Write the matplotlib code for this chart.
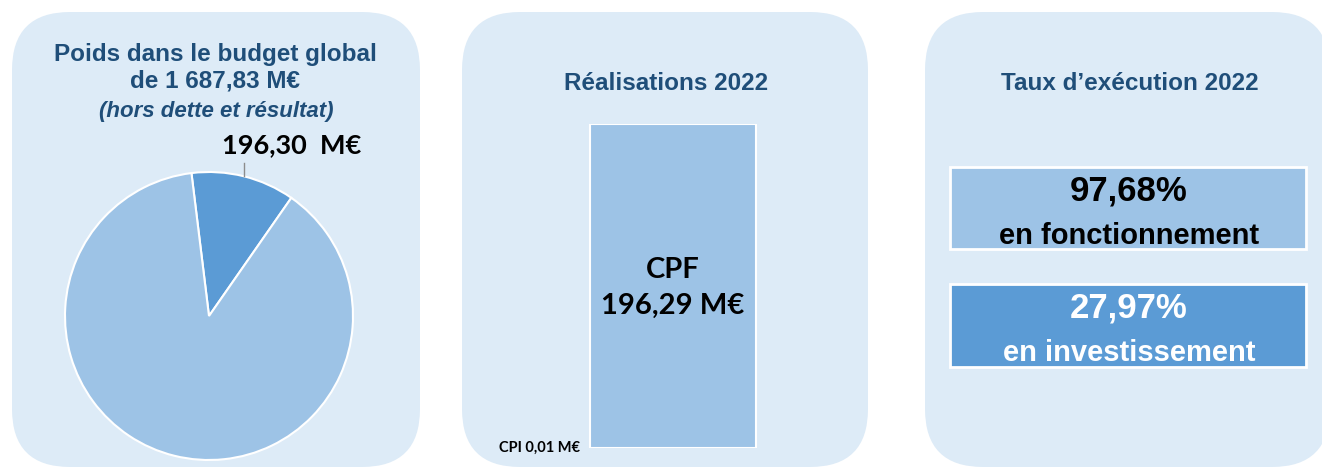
import matplotlib
matplotlib.use("Agg")
import matplotlib.pyplot as plt
import numpy as np
from matplotlib.patches import FancyBboxPatch, Rectangle

# data
budget_total = 1687.83
poids = 196.30
pie_values = [poids, budget_total - poids]
bar_labels = ["CPI", "CPF"]
bar_values = [0.01, 196.29]
taux_values = ["97,68%", "27,97%"]
taux_labels = ["en fonctionnement", "en investissement"]

W, H = 1322, 470
title_col = "#1F4E79"
panel_col = "#DDEBF7"
light = "#9DC3E6"
dark = "#5B9BD5"
arial = "Liberation Sans"
calibri = "Lato"

fig = plt.figure(figsize=(W / 100, H / 100), dpi=100)
bg = fig.add_axes([0, 0, 1, 1])
bg.set_xlim(0, W)
bg.set_ylim(H, 0)
bg.axis("off")

def px_axes(x0, y0, x1, y1):
    return fig.add_axes([x0 / W, 1 - y1 / H, (x1 - x0) / W, (y1 - y0) / H])

def fr(v):
    return f"{v:.2f}".replace(".", ",")

for x0, x1 in [(12, 420), (462, 868), (925, 1330)]:
    bg.add_patch(FancyBboxPatch((x0, 12), x1 - x0, 455,
                                boxstyle="round,pad=0,rounding_size=58",
                                fc=panel_col, ec="none"))

# panel 1 : pie
bg.text(215, 55, "Poids dans le budget global", ha="center", va="center",
        fontsize=17.5, fontweight="bold", color=title_col, family=arial)
bg.text(215, 81, "de 1 687,83 M€", ha="center", va="center",
        fontsize=17.5, fontweight="bold", color=title_col, family=arial)
bg.text(216, 111, "(hors dette et résultat)", ha="center", va="center",
        fontsize=16, fontweight="bold", style="italic", color=title_col, family=arial)

ax1 = px_axes(65, 172, 353, 460)
start = 97
ax1.pie(pie_values, colors=[dark, light], startangle=start, counterclock=False,
        wedgeprops=dict(edgecolor="white", linewidth=1.5))
ax1.set_xlim(-1, 1)
ax1.set_ylim(-1, 1)
mid = np.deg2rad(start - 180 * pie_values[0] / sum(pie_values))
px, py = np.cos(mid), np.sin(mid)
ax1.plot([px, px], [py, py + 13 / 144], color="#8C8C8C", lw=1, clip_on=False)
ax1.text(px + 48 / 144, py + 31 / 144, fr(poids) + "  M€", ha="center", va="center",
         fontsize=19.5, fontweight="bold", family=calibri, clip_on=False)

# panel 2 : stacked bar
bg.text(666, 84, "Réalisations 2022", ha="center", va="center",
        fontsize=17.5, fontweight="bold", color=title_col, family=arial)
ax2 = px_axes(470, 124, 860, 448)
ax2.bar([0], [bar_values[0]], width=1, color=dark, edgecolor="white")
ax2.bar([0], [bar_values[1]], bottom=[bar_values[0]], width=1,
        color=light, edgecolor="white", linewidth=1.5)
ax2.set_xlim(-0.5 - (590 - 470) / 166, 0.5 + (860 - 756) / 166)
ax2.set_ylim(0, sum(bar_values))
ax2.axis("off")
ax2.text(0, sum(bar_values) * 0.494, f"{bar_labels[1]}\n{fr(bar_values[1])} M€",
         ha="center", va="center", fontsize=21, fontweight="bold", family=calibri,
         linespacing=1.45)
ax2.text(-0.56, 0, f"{bar_labels[0]} {fr(bar_values[0])} M€",
         ha="right", va="center", fontsize=10.5, fontweight="bold", family=calibri)

# panel 3 : taux
bg.text(1130, 84, "Taux d’exécution 2022", ha="center", va="center",
        fontsize=17.5, fontweight="bold", color=title_col, family=arial)
for (y0, y1), val, lab, fc, tc in zip([(167, 249), (284, 367)], taux_values, taux_labels,
                                       [light, dark], ["black", "white"]):
    bg.add_patch(Rectangle((950, y0), 356, y1 - y0, fc=fc, ec="white", lw=2))
    bg.text(1129, y0 + 24, val, ha="center", va="center", fontsize=25,
            fontweight="bold", color=tc, family=arial)
    bg.text(1129, y0 + 69, lab, ha="center", va="center", fontsize=21,
            fontweight="bold", color=tc, family=arial)

fig.savefig("out.png", dpi=100)
